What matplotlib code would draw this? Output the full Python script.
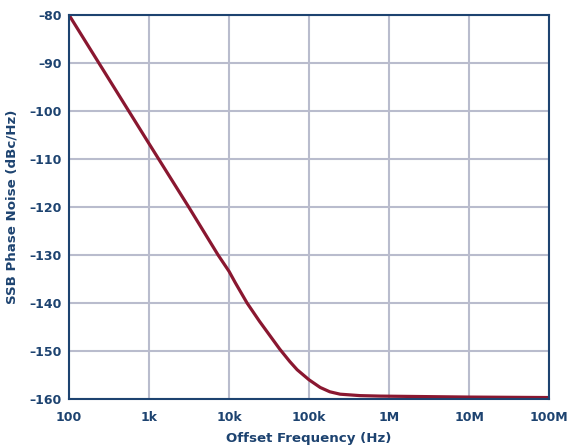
import matplotlib.pyplot as plt
from matplotlib.ticker import FixedLocator, NullLocator

# bruit de phase SSB
freq_hz = [100, 1e3, 3.16e3, 7.3e3, 1e4, 1.2e4, 1.68e4, 2.4e4, 4.3e4, 5.75e4,
           7.1e4, 1e5, 1.38e5, 1.82e5, 2.45e5, 4.36e5, 7.76e5, 1e7, 1e8]
phase_noise = [-80, -106.8, -120.1, -130, -133.4, -135.8, -140, -143.8,
               -149.6, -152.2, -153.9, -156.0, -157.6, -158.5, -159.0,
               -159.3, -159.4, -159.6, -159.7]

x_ticks = [1e2, 1e3, 1e4, 1e5, 1e6, 1e7, 1e8]
x_labels = ['100', '1k', '10k', '100k', '1M', '10M', '100M']
y_ticks = [-160, -150, -140, -130, -120, -110, -100, -90, -80]

navy = '#1d4370'
grille = '#b9bccd'

fig = plt.figure(figsize=(5.69, 4.48), dpi=100)
ax = fig.add_axes([0.1213, 0.1094, 0.8436, 0.8571])
ax.semilogx(freq_hz, phase_noise, color='#8a1730', lw=2.3, zorder=3)
ax.set_xlim(1e2, 1e8)
ax.set_ylim(-160, -80)
ax.xaxis.set_major_locator(FixedLocator(x_ticks))
ax.xaxis.set_minor_locator(NullLocator())
ax.set_xticklabels(x_labels)
ax.set_yticks(y_ticks)
ax.set_yticklabels(['\u2013' + str(abs(v)) for v in y_ticks])
ax.grid(True, color=grille, lw=1.5)
ax.tick_params(length=0, labelsize=9, labelcolor=navy)
ax.tick_params(axis='x', pad=9)
ax.tick_params(axis='y', pad=5.5)
for lab in ax.get_xticklabels() + ax.get_yticklabels():
    lab.set_fontweight('bold')
for sp in ax.spines.values():
    sp.set_color(navy)
    sp.set_linewidth(1.5)
    sp.set_zorder(4)
ax.set_xlabel('Offset Frequency (Hz)', fontsize=9.6, fontweight='bold', color=navy)
ax.set_ylabel('SSB Phase Noise (dBc/Hz)', fontsize=9.6, fontweight='bold', color=navy)
ax.xaxis.set_label_coords(0.5, -0.085)
ax.yaxis.set_label_coords(-0.106, 0.5)
fig.savefig('out.png', dpi=100)
